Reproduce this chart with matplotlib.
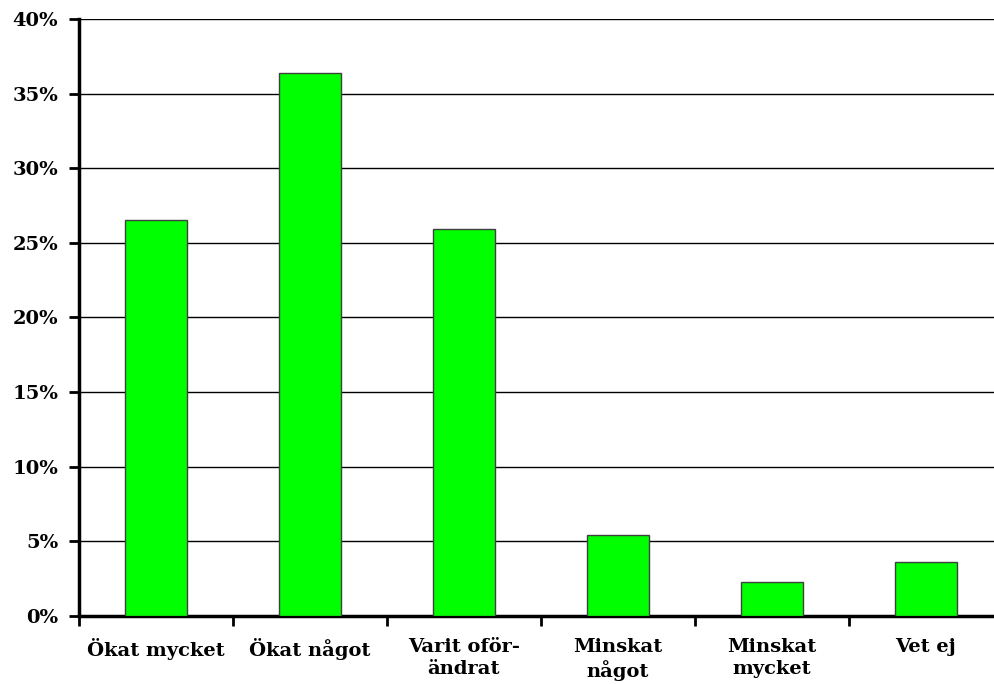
import numpy as np
import matplotlib.pyplot as plt
from matplotlib.ticker import FuncFormatter

# survey answers, share of respondents in percent
categories = ["Ökat mycket", "Ökat något", "Varit oför-\nändrat",
              "Minskat\nnågot", "Minskat\nmycket", "Vet ej"]
shares = [26.5, 36.4, 25.9, 5.4, 2.3, 3.6]

plt.rcParams['font.family'] = ['DejaVu Serif']
plt.rcParams['font.weight'] = 'bold'

fig = plt.figure(figsize=(9.94, 6.84), dpi=100)
ax = fig.add_axes([79 / 994, 68 / 684, 924 / 994, 597 / 684])

x = np.arange(len(categories))
ax.bar(x, shares, width=0.4, color='#00ff00', edgecolor='#404040',
       linewidth=1.0, zorder=3)

ax.set_xlim(-0.5, len(categories) - 0.5)
ax.set_ylim(0, 40)
ax.set_yticks(np.arange(0, 41, 5))
ax.yaxis.set_major_formatter(FuncFormatter(lambda v, _: f"{v:.0f}%"))
ax.yaxis.grid(True, color='black', linewidth=1.0, zorder=0)

# category names centred under the bars, ticks on the boundaries
ax.set_xticks(x)
ax.set_xticklabels(categories, fontsize=14, fontweight='bold',
                   linespacing=1.25, va='top')
ax.tick_params(axis='x', which='major', length=0, pad=16)
ax.set_xticks(np.arange(-0.5, len(categories), 1), minor=True)
ax.tick_params(axis='x', which='minor', length=7, width=2, direction='out')
ax.tick_params(axis='y', length=7, width=2, direction='out',
               labelsize=14, pad=8)

for side in ('top', 'right'):
    ax.spines[side].set_visible(False)
for side in ('left', 'bottom'):
    ax.spines[side].set_linewidth(2.5)

fig.savefig("out.png", dpi=100)
